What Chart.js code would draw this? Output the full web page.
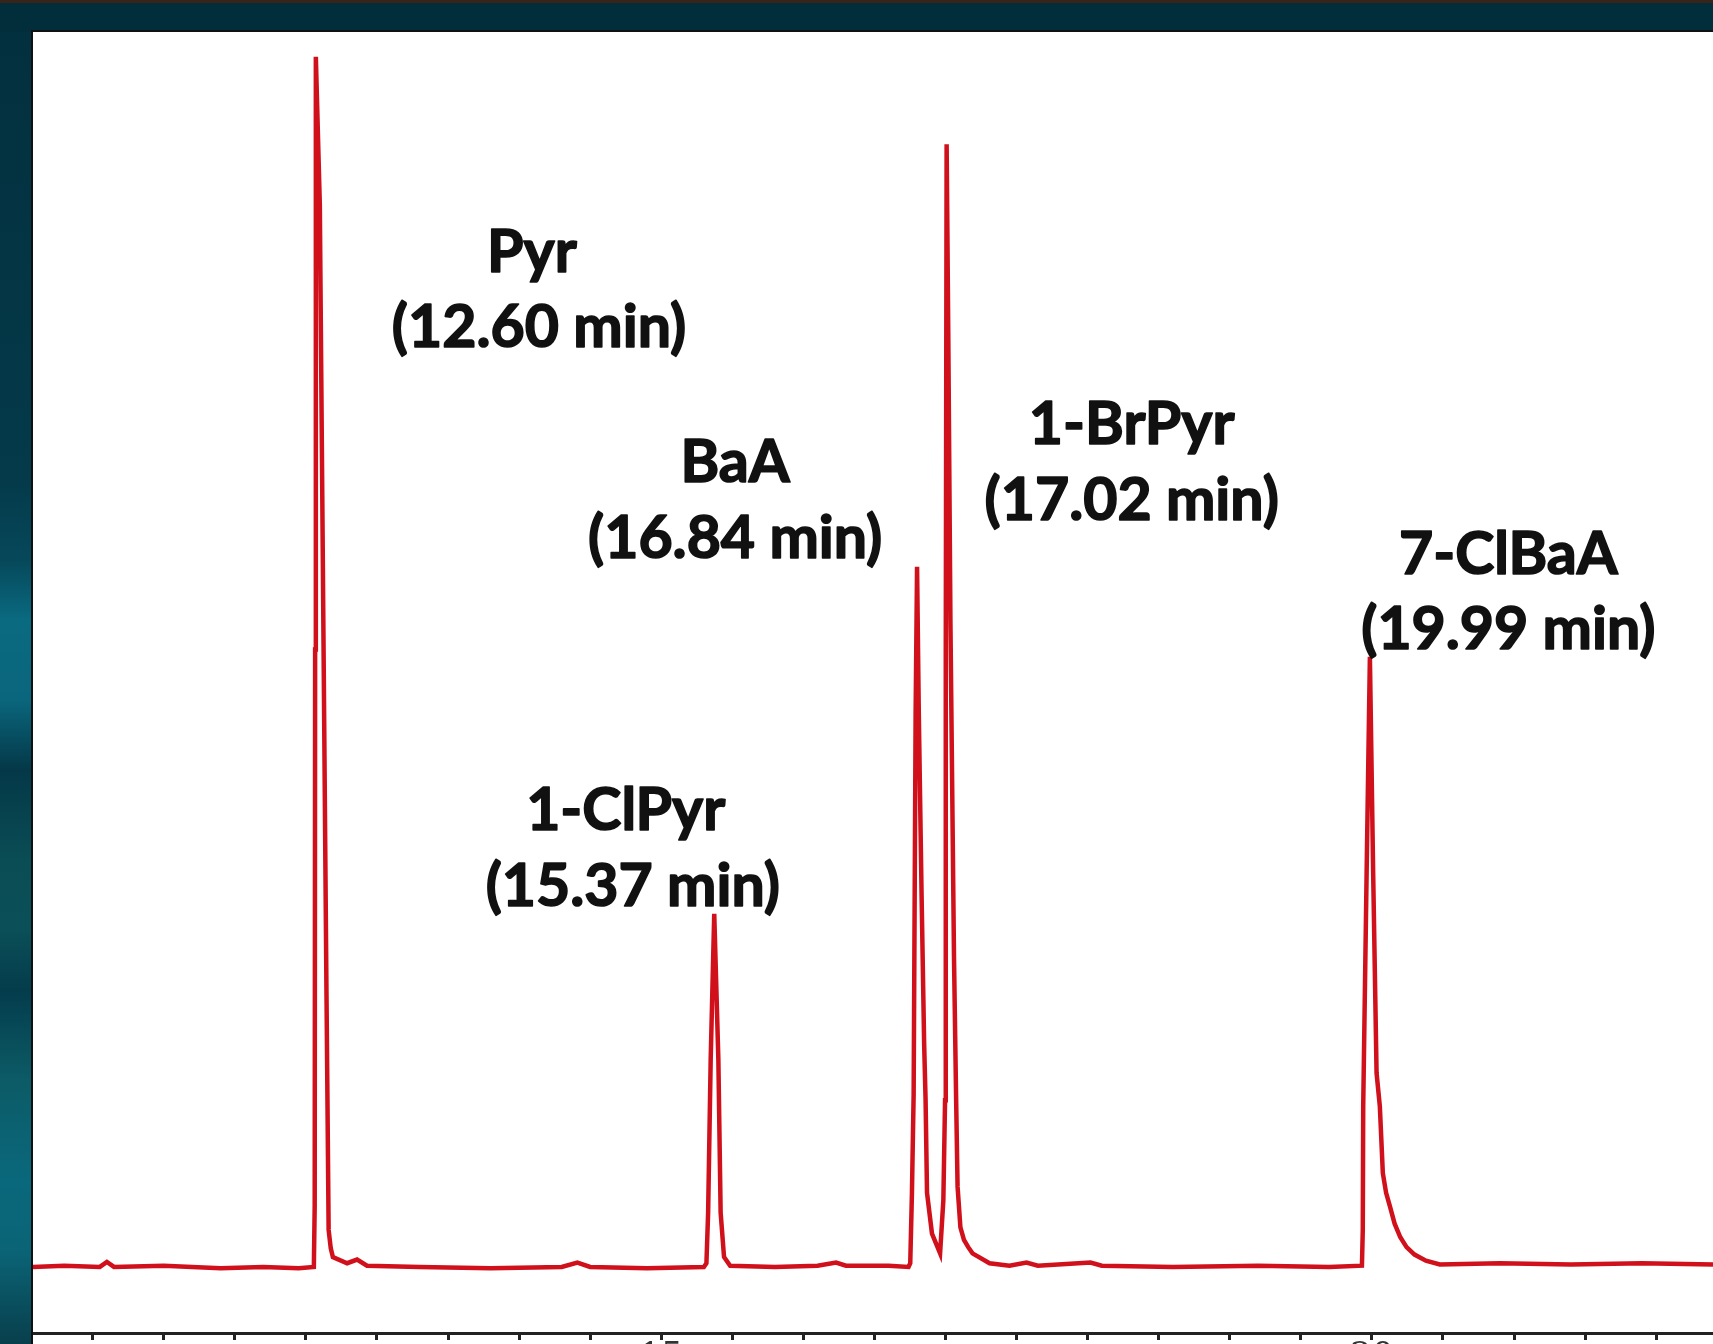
<!DOCTYPE html>
<html>
<head>
<meta charset="utf-8">
<script src="https://cdn.jsdelivr.net/npm/chart.js@4/dist/chart.umd.min.js"></script>
<style>
  html, body { margin: 0; padding: 0; }
  body {
    width: 1713px; height: 1344px; overflow: hidden; position: relative;
    background: linear-gradient(to bottom,
      #032f3d 0px, #043a4a 480px, #06485a 560px, #0a6a80 620px, #0a667c 700px,
      #043848 770px, #0a4d55 860px, #0b4f58 930px, #043c4c 990px, #0c5b66 1080px,
      #0a687c 1180px, #0a6476 1250px, #093f4c 1344px);
  }
  #topband {
    position: absolute; left: 0; top: 0; width: 1713px; height: 29px;
    background: #022e3b; border-top: 3px solid #3a2419;
  }
  #panel {
    position: absolute; left: 31px; top: 30px; width: 1682px; height: 1314px;
    background: #fff; border-left: 2px solid #111; border-top: 2px solid #111;
    box-sizing: border-box;
  }
  #chart { position: absolute; left: 33px; top: 32px; }
</style>
</head>
<body>
<div id="topband"></div>
<div id="panel"></div>
<canvas id="chart" width="1680" height="1361"></canvas>
<script>
// retention time (min) and detector signal
const times = [
  10.58, 10.80, 11.05, 11.10, 11.15, 11.50, 11.90, 12.20, 12.45,
  12.556, 12.562, 12.565, 12.570, 12.598, 12.645, 12.660, 12.675, 12.690, 12.790, 12.860, 12.930,
  13.30, 13.80, 14.30, 14.41, 14.50, 14.90,
  15.300, 15.318, 15.330, 15.348, 15.373, 15.402, 15.418, 15.442, 15.485,
  15.80, 16.10, 16.23, 16.30, 16.60,
  16.740, 16.752, 16.764, 16.776, 16.790, 16.800, 16.812, 16.832, 16.850, 16.860, 16.870, 16.905, 16.962,
  16.985, 16.997, 17.002, 17.008, 17.020, 17.035, 17.060, 17.075, 17.085, 17.105, 17.130, 17.160, 17.190, 17.310, 17.450,
  17.57, 17.65, 18.02, 18.10, 18.60, 19.20, 19.70,
  19.930, 19.936, 19.939, 19.963, 19.986, 20.009, 20.033, 20.056, 20.077, 20.100, 20.127, 20.160, 20.200, 20.244, 20.300, 20.380, 20.478,
  20.90, 21.40, 21.90, 22.40
];
const signal = [
  0.0, 0.1, 0.0, 0.4, 0.0, 0.1, -0.1, 0.0, -0.1,
  0.0, 5, 50, 98, 86, 22, 3, 1.5, 0.8, 0.3, 0.6, 0.1,
  0.0, -0.1, 0.0, 0.35, 0.0, -0.1,
  0.0, 0.3, 4.4, 16.8, 28.6, 16.8, 4.4, 0.8, 0.1,
  0.0, 0.1, 0.35, 0.1, 0.1,
  0.0, 0.3, 6, 14, 45, 56.7, 45, 30, 18, 13.5, 6, 2.7, 1.1,
  5.4, 13.5, 50, 90.9, 75, 52, 25, 13.5, 6.5, 3.2, 2.2, 1.6, 1.1, 0.3, 0.1,
  0.35, 0.1, 0.35, 0.1, 0.0, 0.1, 0.0,
  0.1, 3, 13, 31.9, 49.4, 31.9, 15.7, 13, 7.6, 6.0, 4.9, 3.5, 2.4, 1.6, 1.0, 0.5, 0.2,
  0.3, 0.2, 0.3, 0.2
];

// peak annotations
const compounds = ['Pyr', '1-ClPyr', 'BaA', '1-BrPyr', '7-ClBaA'];
const retention = ['12.60', '15.37', '16.84', '17.02', '19.99'];

// x axis range and ticks
const xMin = 10.58;
const xMax = 22.40;
const tickStep = 0.5;
const labelEvery = 5;

// where each two-line label sits (x in min, baselines in signal units)
const labelSpots = [
  [14.09, 14.14, 80.6, 74.5],
  [14.75, 14.80, 35.4, 29.2],
  [15.52, 15.52, 63.6, 57.4],
  [18.31, 18.31, 66.6, 60.5],
  [20.96, 20.96, 56.1, 50.0]
];

const peakLabels = {
  id: 'peakLabels',
  afterDatasetsDraw(chart) {
    const c = chart.ctx;
    const xs = chart.scales.x, ys = chart.scales.y;
    c.save();
    c.fillStyle = '#111';
    c.strokeStyle = '#111';
    c.lineWidth = 1.6;
    c.lineJoin = 'round';
    c.font = 'bold 59px Lato';
    c.textAlign = 'center';
    c.textBaseline = 'alphabetic';
    compounds.forEach((name, i) => {
      const s = labelSpots[i];
      const line2 = '(' + retention[i] + ' min)';
      const x1 = xs.getPixelForValue(s[0]), y1 = ys.getPixelForValue(s[2]);
      const x2 = xs.getPixelForValue(s[1]), y2 = ys.getPixelForValue(s[3]);
      c.fillText(name, x1, y1);
      c.strokeText(name, x1, y1);
      c.fillText(line2, x2, y2);
      c.strokeText(line2, x2, y2);
    });
    c.restore();
  }
};

new Chart(document.getElementById('chart'), {
  type: 'line',
  data: {
    datasets: [{
      data: times.map((t, i) => ({ x: t, y: signal[i] })),
      borderColor: '#d0101b',
      borderWidth: 4.5,
      pointRadius: 0,
      tension: 0,
      fill: false
    }]
  },
  options: {
    responsive: false,
    animation: false,
    layout: { padding: 0 },
    plugins: { legend: { display: false }, tooltip: { enabled: false } },
    scales: {
      x: {
        type: 'linear',
        min: xMin,
        max: xMax,
        afterFit: (scale) => { scale.height = 60; },
        border: { display: true, color: '#222', width: 3 },
        grid: { display: true, drawOnChartArea: false, drawTicks: true, tickLength: 7, color: '#222', lineWidth: 3 },
        ticks: {
          stepSize: tickStep,
          includeBounds: false,
          autoSkip: false,
          maxRotation: 0,
          padding: -3,
          color: '#333',
          font: { family: 'DejaVu Serif', size: 34 },
          callback: (v) => (Math.abs(v % labelEvery) < 1e-6 ? String(v) : '')
        }
      },
      y: {
        display: false,
        min: -5.35,
        max: 100
      }
    }
  },
  plugins: [peakLabels]
});
</script>
</body>
</html>
